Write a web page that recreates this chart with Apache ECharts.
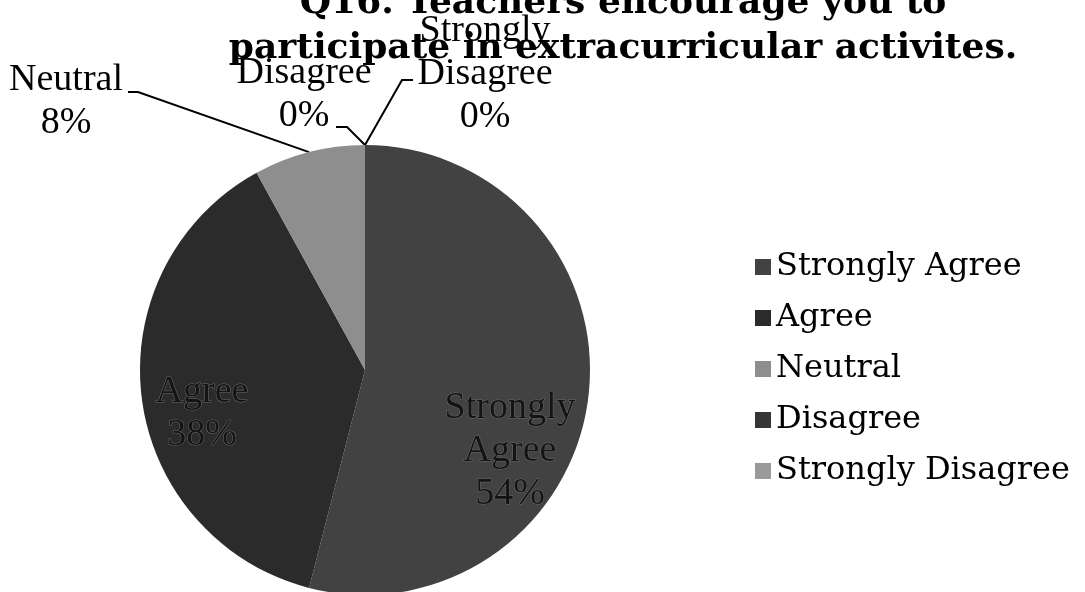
<!DOCTYPE html>
<html>
<head>
<meta charset="utf-8">
<script src="https://cdn.jsdelivr.net/npm/echarts@6/dist/echarts.min.js"></script>
<style>
  html, body { margin: 0; padding: 0; background: #fff; }
  #main { width: 1085px; height: 592px; }
</style>
</head>
<body>
<div id="main"></div>
<script>
// survey answers, Q16
var categories = ['Strongly Agree', 'Agree', 'Neutral', 'Disagree', 'Strongly Disagree'];
var percents = [54, 38, 8, 0, 0];
var sliceNames = ['Strongly\nAgree', 'Agree', 'Neutral', 'Disagree', 'Strongly\nDisagree'];

var colors = ['#424242', '#2b2b2b', '#8e8e8e', '#363636', '#9a9a9a'];

// where each label sits (Excel-style placement)
var labelSpots = [
  { x: 510, y: 451 },
  { x: 202, y: 414 },
  { x: 66, y: 102, elbow: [[138, 92], [128, 92]] },
  { x: 304, y: 95, elbow: [[347, 127], [336, 127]] },
  { x: 485, y: 74, elbow: [[402, 80], [413, 80]] }
];

var myChart = echarts.init(document.getElementById('main'));

var pieData = categories.map(function (c, i) {
  var inside = i < 2;
  return {
    name: c,
    value: percents[i],
    itemStyle: { color: colors[i] },
    label: inside ? { color: '#141414', textBorderColor: '#6a6a6a', textBorderWidth: 1 } : {},
    labelLine: { show: !inside }
  };
});

myChart.setOption({
  animation: false,
  backgroundColor: '#fff',
  title: {
    text: 'Q16. Teachers encourage you to\nparticipate in extracurricular activites.',
    left: 618,
    top: -24,
    textAlign: 'center',
    textStyle: {
      fontFamily: 'DejaVu Serif',
      fontWeight: 'bold',
      fontSize: 36,
      lineHeight: 45,
      color: '#000'
    }
  },
  legend: {
    orient: 'vertical',
    left: 750,
    top: 246,
    icon: 'rect',
    itemWidth: 16,
    itemHeight: 16,
    itemGap: 19,
    data: categories,
    textStyle: {
      fontFamily: 'DejaVu Serif',
      fontSize: 32,
      lineHeight: 32,
      color: '#000'
    }
  },
  series: [{
    type: 'pie',
    center: [365, 370],
    radius: 225,
    startAngle: 90,
    clockwise: true,
    avoidLabelOverlap: false,
    data: pieData,
    label: {
      show: true,
      formatter: function (p) {
        return sliceNames[p.dataIndex] + '\n' + p.value + '%';
      },
      fontFamily: 'Liberation Serif',
      fontSize: 38,
      lineHeight: 43,
      color: '#000',
      align: 'center'
    },
    labelLine: {
      show: true,
      lineStyle: { color: '#000', width: 2 }
    },
    labelLayout: function (params) {
      var s = labelSpots[params.dataIndex];
      var out = { x: s.x, y: s.y, align: 'center', verticalAlign: 'middle' };
      if (s.elbow) {
        var start = params.labelLinePoints ? params.labelLinePoints[0] : [365, 145];
        out.labelLinePoints = [start].concat(s.elbow);
      }
      return out;
    }
  }]
});
</script>
</body>
</html>
